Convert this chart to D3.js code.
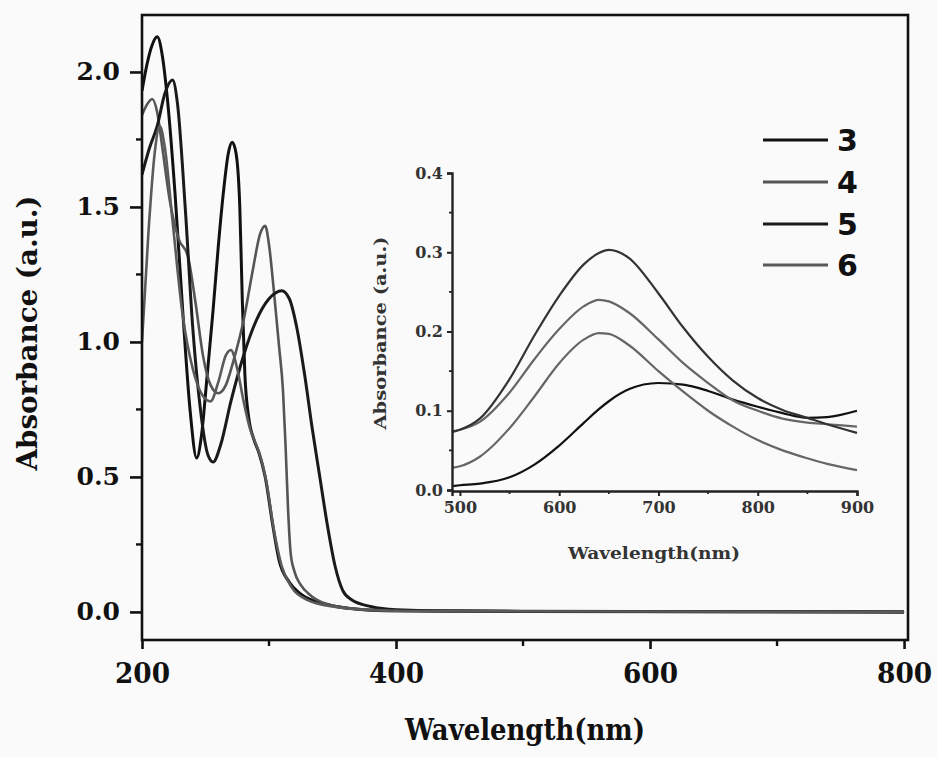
<html>
<head>
<script src="https://d3js.org/d3.v7.min.js"></script>
<style>
  body { margin: 0; background: #fafafa; }
  svg { display: block; }
</style>
</head>
<body>
<script>
// main spectra (wavelength in nm, absorbance)
const wl3 = [200,204,208,212,216,220,226,232,238,243,247,251,256,260,264,268,271,274,277,279,281,284,288,292,297,303,308,316,324,336,348,370,400,500,800];
const abs3 = [1.93,2.03,2.10,2.13,2.06,1.90,1.55,1.12,0.74,0.57,0.66,0.86,1.12,1.35,1.55,1.70,1.74,1.70,1.50,1.15,0.88,0.72,0.64,0.59,0.50,0.32,0.19,0.11,0.07,0.04,0.025,0.01,0.004,0.002,0.0];

const wl4 = [200,204,208,212,216,222,229,236,242,248,254,260,266,272,280,287,293,297,300,304,308,311,313,315,317,320,325,333,345,370,400,500,800];
const abs4 = [1.84,1.88,1.90,1.85,1.72,1.52,1.38,1.32,1.15,0.95,0.84,0.81,0.84,0.93,1.08,1.26,1.40,1.43,1.36,1.18,0.98,0.82,0.62,0.38,0.22,0.15,0.10,0.06,0.03,0.01,0.004,0.002,0.0];

const wl5 = [200,206,212,218,224,228,234,240,246,252,256,262,270,280,290,300,310,316,322,328,334,340,346,352,358,365,380,400,450,800];
const abs5 = [1.62,1.72,1.80,1.92,1.97,1.88,1.50,1.05,0.75,0.58,0.555,0.62,0.78,0.95,1.08,1.16,1.19,1.16,1.05,0.88,0.68,0.50,0.32,0.17,0.08,0.045,0.02,0.008,0.003,0.0];

const wl6 = [200,205,210,214,218,224,232,240,248,254,260,266,270,275,280,285,289,293,298,304,310,318,330,350,380,420,800];
const abs6 = [1.00,1.40,1.70,1.80,1.72,1.45,1.10,0.90,0.80,0.78,0.85,0.95,0.97,0.90,0.78,0.68,0.63,0.58,0.48,0.30,0.17,0.09,0.045,0.02,0.008,0.003,0.0];

// inset spectra (500-900 nm)
const wlInset = [492,500,520,550,575,600,625,640,650,670,700,725,750,775,800,825,850,870,900];
const inset3 = [0.005,0.006,0.008,0.016,0.032,0.056,0.085,0.102,0.112,0.127,0.135,0.133,0.125,0.114,0.105,0.097,0.091,0.092,0.100];
const inset4 = [0.074,0.076,0.086,0.123,0.165,0.203,0.232,0.240,0.238,0.224,0.190,0.160,0.135,0.113,0.100,0.090,0.085,0.083,0.080];
const inset5 = [0.073,0.076,0.090,0.140,0.195,0.245,0.285,0.299,0.303,0.293,0.248,0.205,0.168,0.138,0.116,0.101,0.091,0.083,0.072];
const inset6 = [0.028,0.030,0.042,0.078,0.118,0.160,0.190,0.198,0.197,0.183,0.150,0.124,0.100,0.080,0.063,0.050,0.040,0.033,0.025];

const seriesNames = ["3", "4", "5", "6"];
const seriesColors = ["#111", "#555", "#1a1a1a", "#5a5a5a"];

const mainXTicks = [200, 400, 600, 800];
const mainXMinor = [300, 500, 700];
const mainYTicks = [0.0, 0.5, 1.0, 1.5, 2.0];
const mainYMinor = [0.25, 0.75, 1.25, 1.75];
const insetXTicks = [500, 600, 700, 800, 900];
const insetXMinor = [550, 650, 750, 850];
const insetYTicks = [0.0, 0.1, 0.2, 0.3, 0.4];
const insetYMinor = [0.05, 0.15, 0.25, 0.35];

const w = 937, h = 758;
const svg = d3.select("body").append("svg").attr("width", w).attr("height", h);
svg.append("rect").attr("width", w).attr("height", h).attr("fill", "#fafafa");

const x = d3.scaleLinear().domain([200, 803.1]).range([142, 908]);
const y = d3.scaleLinear().domain([-0.104, 2.211]).range([640, 15]);

svg.append("clipPath").attr("id", "clipMain")
  .append("rect").attr("x", 142).attr("y", 15).attr("width", 766).attr("height", 625);

const mainData = [[wl3, abs3], [wl4, abs4], [wl5, abs5], [wl6, abs6]];
const lineMain = d3.line().x(d => x(d[0])).y(d => y(d[1])).curve(d3.curveMonotoneX);

const gMain = svg.append("g").attr("clip-path", "url(#clipMain)");
mainData.forEach((s, i) => {
  const pts = s[0].map((v, j) => [v, s[1][j]]);
  gMain.append("path").datum(pts)
    .attr("d", lineMain)
    .attr("fill", "none")
    .attr("stroke", seriesColors[i])
    .attr("stroke-width", i % 2 === 0 ? 3 : 2.6)
    .attr("stroke-linejoin", "round");
});

// frame
svg.append("rect").attr("x", 142).attr("y", 15).attr("width", 766).attr("height", 625)
  .attr("fill", "none").attr("stroke", "#111").attr("stroke-width", 2.6);

// main axes
const xAxis = d3.axisBottom(x).tickValues(mainXTicks).tickSize(9).tickPadding(14).tickFormat(d3.format("d"));
const gx = svg.append("g").attr("transform", "translate(0,640)").call(xAxis);
gx.select(".domain").remove();
gx.selectAll(".tick line").attr("stroke", "#111").attr("stroke-width", 2.6);
gx.selectAll(".tick text").attr("fill", "#111")
  .style("font-family", "'DejaVu Serif', serif").style("font-weight", "bold").style("font-size", "28px")
  .attr("textLength", 55).attr("lengthAdjust", "spacingAndGlyphs");
svg.append("g").selectAll("line").data(mainXMinor).join("line")
  .attr("x1", d => x(d)).attr("x2", d => x(d)).attr("y1", 640).attr("y2", 646)
  .attr("stroke", "#111").attr("stroke-width", 2.4);

const yAxis = d3.axisLeft(y).tickValues(mainYTicks).tickSize(12).tickPadding(10).tickFormat(d3.format(".1f"));
const gy = svg.append("g").attr("transform", "translate(142,0)").call(yAxis);
gy.select(".domain").remove();
gy.selectAll(".tick line").attr("stroke", "#111").attr("stroke-width", 2.6);
gy.selectAll(".tick text").attr("fill", "#111")
  .style("font-family", "'DejaVu Serif', serif").style("font-weight", "bold").style("font-size", "25px");
svg.append("g").selectAll("line").data(mainYMinor).join("line")
  .attr("x1", 136).attr("x2", 142).attr("y1", d => y(d)).attr("y2", d => y(d))
  .attr("stroke", "#111").attr("stroke-width", 2.4);

svg.append("text").attr("x", 525).attr("y", 740).attr("text-anchor", "middle")
  .style("font-family", "'DejaVu Serif', serif").style("font-weight", "bold").style("font-size", "30px")
  .attr("fill", "#111").attr("textLength", 240).attr("lengthAdjust", "spacingAndGlyphs")
  .text("Wavelength(nm)");
svg.append("text").attr("transform", "translate(37,333) rotate(-90)").attr("text-anchor", "middle")
  .style("font-family", "'DejaVu Serif', serif").style("font-weight", "bold").style("font-size", "27px")
  .attr("fill", "#111").attr("textLength", 275).attr("lengthAdjust", "spacingAndGlyphs")
  .text("Absorbance (a.u.)");

// legend
const legend = svg.append("g");
const legY = [140, 182, 224, 265];
seriesNames.forEach((n, i) => {
  legend.append("line").attr("x1", 763).attr("x2", 828).attr("y1", legY[i]).attr("y2", legY[i])
    .attr("stroke", seriesColors[i]).attr("stroke-width", 3);
  legend.append("text").attr("x", 837).attr("y", legY[i]).attr("dy", "0.36em")
    .style("font-family", "'DejaVu Sans', sans-serif").style("font-weight", "bold").style("font-size", "30px")
    .attr("fill", "#111").text(n);
});

// inset
const xi = d3.scaleLinear().domain([492, 900]).range([452, 857]);
const yi = d3.scaleLinear().domain([0, 0.4]).range([490, 173]);
const lineInset = d3.line().x(d => xi(d[0])).y(d => yi(d[1])).curve(d3.curveMonotoneX);
const insetData = [inset3, inset4, inset5, inset6];
insetData.forEach((s, i) => {
  const pts = wlInset.map((v, j) => [v, s[j]]);
  svg.append("path").datum(pts)
    .attr("d", lineInset)
    .attr("fill", "none")
    .attr("stroke", i === 0 ? "#111" : (i === 2 ? "#333" : "#666"))
    .attr("stroke-width", 2.2);
});

const xiAxis = d3.axisBottom(xi).tickValues(insetXTicks).tickSize(5).tickPadding(6).tickFormat(d3.format("d"));
const gxi = svg.append("g").attr("transform", "translate(0,491)").call(xiAxis);
gxi.select(".domain").attr("stroke", "#222").attr("stroke-width", 2.4);
gxi.selectAll(".tick line").attr("stroke", "#222").attr("stroke-width", 2);
gxi.selectAll(".tick text").attr("fill", "#333")
  .style("font-family", "'DejaVu Serif', serif").style("font-weight", "bold").style("font-size", "16px");
svg.append("g").selectAll("line").data(insetXMinor).join("line")
  .attr("x1", d => xi(d)).attr("x2", d => xi(d)).attr("y1", 491).attr("y2", 494)
  .attr("stroke", "#222").attr("stroke-width", 1.8);

const yiAxis = d3.axisLeft(yi).tickValues(insetYTicks).tickSize(5).tickPadding(4).tickFormat(d3.format(".1f"));
const gyi = svg.append("g").attr("transform", "translate(452,0)").call(yiAxis);
gyi.select(".domain").attr("stroke", "#222").attr("stroke-width", 2.4);
gyi.selectAll(".tick line").attr("stroke", "#222").attr("stroke-width", 2);
gyi.selectAll(".tick text").attr("fill", "#333")
  .style("font-family", "'DejaVu Serif', serif").style("font-weight", "bold").style("font-size", "16px");
svg.append("g").selectAll("line").data(insetYMinor).join("line")
  .attr("x1", 449).attr("x2", 452).attr("y1", d => yi(d)).attr("y2", d => yi(d))
  .attr("stroke", "#222").attr("stroke-width", 1.8);

svg.append("text").attr("x", 654).attr("y", 559).attr("text-anchor", "middle")
  .style("font-family", "'DejaVu Serif', serif").style("font-weight", "bold").style("font-size", "17px")
  .attr("fill", "#333").attr("textLength", 172).attr("lengthAdjust", "spacingAndGlyphs")
  .text("Wavelength(nm)");
svg.append("text").attr("transform", "translate(386,333) rotate(-90)").attr("text-anchor", "middle")
  .style("font-family", "'DejaVu Serif', serif").style("font-weight", "bold").style("font-size", "17px")
  .attr("fill", "#333").attr("textLength", 193).attr("lengthAdjust", "spacingAndGlyphs")
  .text("Absorbance (a.u.)");
</script>
</body>
</html>
